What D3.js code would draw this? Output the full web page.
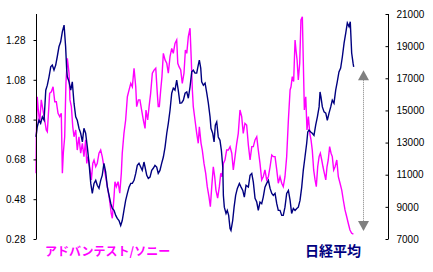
<!DOCTYPE html>
<html>
<head>
<meta charset="utf-8">
<script src="https://cdn.jsdelivr.net/npm/d3@7"></script>
<style>
  html, body { margin: 0; padding: 0; background: #ffffff; }
  svg { display: block; }
  .tick text { font-family: "Liberation Sans", Arial, sans-serif; }
</style>
</head>
<body>
<div id="chart"></div>
<script>
// ---- Data (months since Jan 1999) ----
const nikkeiMonths = [0,0.8,1.9,3.0,4.1,5.2,6.3,7.3,8.4,9.5,
10.5,11.6,12.7,13.7,14.8,15.9,17.0,18.1,19.1,19.8,
20.2,21.3,22.4,23.4,24.5,25.6,26.6,27.7,28.8,29.9,
30.9,32.0,33.1,34.2,35.3,36.3,37.4,38.5,39.5,40.6,
41.7,42.7,43.8,44.9,46.0,47.1,48.2,49.2,50.3,51.4,
52.4,53.5,54.6,55.6,56.7,57.8,58.9,60.0,61.1,62.1,
63.2,64.3,65.3,66.4,67.5,68.5,69.6,70.3,71.4,72.4,
73.5,74.6,75.6,76.7,77.8,78.8,79.9,81.0,82.1,83.2,
84.3,85.3,86.4,87.5,88.5,89.6,90.7,91.7,92.8,93.9,
95.0,96.1,97.2,98.2,99.3,100.4,101.4,102.5,103.6,104.6,
105.3,106.2,106.8,107.9,109.0,110.1,111.1,112.2,112.8,113.9,
114.8,115.6,116.5,117.5,118.6,119.5,120.4,120.8,121.4,122.5,
123.3,124.2,125.1,125.7,126.8,127.7,128.7,129.8,131.1,132.2,
133.3,134.3,135.4,136.9,138.0,139.1,140.1,141.2,142.3,143.3,
144.4,145.5,146.5,147.6,148.7,149.8,150.9,152.0,153.0,154.1,
155.2,156.2,157.3,158.4,159.4,160.5,161.6,162.7,163.8,164.8,
165.9,167.0,168.1,169.1,170.2,171.3,172.3,173.4,174.5,175.2,
176.0,177.1,178.1,179.2,180.3,181.4,182.5,183.1,183.7,184.6,
185.7,186.8,187.8,188.9,190.0,191.0,192.1,193.2,194.2,195.3,
196.4,197.5,198.6,199.7,200.7,201.8,202.6,203.5,204.4,204.8];

const nikkeiValues = [13350,13970,14390,14200,14600,14390,16260,16570,17090,17710,
17820,17510,17820,18340,18960,19270,19900,20310,18960,17510,
17090,16780,16260,16780,15450,14600,14390,13890,13580,13040,
13890,13580,12720,11710,10460,9840,10460,10650,10340,10150,
10650,10960,11710,11170,10230,9710,9210,8900,8780,8470,
8280,8150,7840,8150,8780,9400,9840,10230,10460,10460,
10650,11080,11580,11710,11480,11270,11790,11480,10960,10770,
10850,11270,11400,11580,11480,11080,11270,11710,12100,12720,
13580,14200,15010,16070,16390,16260,16880,16260,15450,15470,
15640,16070,16150,15760,16470,17400,17510,17320,17320,17820,
18130,17630,16780,16570,16700,16070,15450,14600,13890,13580,
13040,14080,14280,13350,13140,12520,11480,9710,8980,8590,
8780,8470,7650,7530,8150,8980,9710,10150,10460,10230,
10020,9610,10340,10230,10960,11080,10540,9530,9300,8780,
9300,9200,9610,10230,10460,10650,10150,9840,9710,9840,
9200,8780,8780,8470,8470,8980,9840,10020,9400,8590,
8900,8780,8900,8980,9400,10230,11270,12100,12960,13660,
13770,13660,13580,13450,14080,14600,15220,16150,15840,15220,
14910,14830,14390,14830,15220,15640,15450,16260,16780,17400,
17630,18340,19190,19820,20440,20210,20520,18570,17940,17710];

const ratioMonths = [0,0.2,0.8,1.5,2.4,3.4,4.5,5.6,6.6,7.3,
7.9,8.8,9.9,11.0,12.1,13.1,14.2,15.3,16.3,17.0,
17.6,18.5,19.3,20.2,21.3,21.9,22.8,23.7,24.5,25.6,
26.6,27.7,28.8,29.9,30.9,32.0,32.7,33.5,34.6,35.7,
36.6,37.4,38.5,39.5,40.6,41.7,42.7,43.8,44.9,46.0,
47.1,47.7,48.5,49.2,50.3,50.9,51.8,52.9,54.0,55.0,
55.6,56.7,57.8,58.9,60.0,61.1,62.1,63.2,64.3,64.9,
66.0,67.0,68.1,69.2,70.3,70.9,72.0,72.9,73.9,75.0,
76.1,77.2,78.2,78.8,79.5,80.4,81.2,82.1,83.2,84.3,
85.3,86.4,87.5,88.5,89.6,90.7,91.4,92.2,93.3,94.3,
95.4,96.3,97.2,98.2,99.3,100.1,100.8,101.4,102.5,103.6,
104.6,105.3,106.4,107.2,108.3,109.4,110.4,111.5,112.4,113.3,
114.3,115.2,116.0,117.1,118.2,119.1,119.9,120.8,121.8,122.9,
124.0,125.1,126.2,127.2,128.3,129.4,130.4,131.5,132.6,133.6,
134.7,135.8,136.9,138.0,139.1,140.1,141.2,142.3,143.3,144.4,
145.5,146.5,147.6,148.7,149.8,150.9,152.0,153.0,154.1,155.2,
156.2,157.3,158.4,159.4,160.5,161.6,162.7,163.8,164.4,165.2,
166.1,167.0,167.6,168.3,169.1,170.0,170.8,171.7,172.3,173.0,
173.9,174.7,175.6,176.5,177.3,178.1,179.0,179.9,180.7,181.6,
182.5,183.3,184.2,185.0,185.9,186.8,187.6,188.4,189.3,190.2,
191.0,191.9,192.8,193.9,194.9,196.0,197.1,198.1,199.2,200.3,
201.3,202.4,203.5,204.6];

const ratioValues = [0.610,0.794,0.995,0.928,0.863,0.979,0.928,0.878,0.828,0.819,
0.895,1.012,1.020,1.045,0.970,0.970,0.912,0.895,0.912,0.610,
0.711,0.794,1.062,1.188,1.113,0.979,0.945,0.844,0.794,0.828,
0.727,0.794,0.711,0.761,0.694,0.778,0.660,0.694,0.643,0.577,
0.660,0.677,0.643,0.660,0.711,0.727,0.694,0.643,0.593,0.543,
0.493,0.459,0.409,0.384,0.493,0.568,0.543,0.568,0.510,0.610,
0.711,0.811,0.878,0.995,1.029,1.062,1.045,1.138,1.045,0.945,
0.979,0.979,0.928,0.878,0.836,0.928,0.878,0.945,1.012,1.113,
1.129,1.138,1.012,0.945,0.945,1.029,1.096,1.213,1.180,1.163,
1.113,1.196,1.238,1.213,1.263,1.280,1.163,1.146,1.129,1.062,
1.113,1.230,1.213,1.297,1.339,1.180,1.029,0.945,0.878,0.811,
0.761,0.844,0.761,0.727,0.660,0.610,0.543,0.493,0.442,0.543,
0.643,0.593,0.526,0.485,0.543,0.610,0.593,0.660,0.677,0.727,
0.727,0.744,0.711,0.627,0.694,0.761,0.811,0.928,0.895,0.811,
0.861,0.853,0.752,0.677,0.744,0.744,0.778,0.794,0.727,0.660,
0.577,0.593,0.627,0.577,0.593,0.643,0.702,0.694,0.694,0.627,
0.560,0.593,0.560,0.543,0.593,0.694,0.878,1.029,1.045,1.096,
1.071,1.280,1.230,1.180,1.079,1.163,1.381,1.397,1.180,0.928,
0.995,0.828,0.895,0.811,0.778,0.727,0.627,0.577,0.543,0.643,
0.694,0.711,0.677,0.643,0.610,0.577,0.643,0.677,0.744,0.711,
0.694,0.627,0.643,0.677,0.593,0.560,0.526,0.476,0.426,0.392,
0.359,0.325,0.309,0.305];

const leftTicks = [0.28, 0.48, 0.68, 0.88, 1.08, 1.28];
const rightTicks = [7000, 9000, 11000, 13000, 15000, 17000, 19000, 21000];
const ratioLabel = "アドバンテスト/ソニー";
const nikkeiLabel = "日経平均";
const arrowMonth = 210.5;
const arrowRange = [7500, 17500];   // in Nikkei units (arrow tips)

// ---- Layout ----
const W = 433, H = 272;
const plotLeft = 36, plotRight = 388, plotTop = 14, plotBottom = 239;

const svg = d3.select("#chart").append("svg").attr("width", W).attr("height", H);

const x = d3.scaleLinear().domain([0, 205]).range([plotLeft, 354]);
const yL = d3.scaleLinear().domain([0.28, 0.28 + 225 / 199]).range([plotBottom, plotTop]);
const yR = d3.scaleLinear().domain([7000, 21000]).range([plotBottom, plotTop]);

// Lines
const ratioData = ratioMonths.map((m, i) => [m, ratioValues[i]]);
const nikkeiData = nikkeiMonths.map((m, i) => [m, nikkeiValues[i]]);

svg.append("path")
  .datum(ratioData)
  .attr("fill", "none")
  .attr("stroke", "#ff00ff")
  .attr("stroke-width", 1.4)
  .attr("d", d3.line().x(d => x(d[0])).y(d => yL(d[1])));

svg.append("path")
  .datum(nikkeiData)
  .attr("fill", "none")
  .attr("stroke", "#000080")
  .attr("stroke-width", 1.4)
  .attr("d", d3.line().x(d => x(d[0])).y(d => yR(d[1])));

// Axes
const axL = d3.axisLeft(yL).tickValues(leftTicks).tickFormat(d3.format(".2f")).tickSize(3).tickPadding(8);
const gL = svg.append("g").attr("transform", `translate(${plotLeft + 0.5},0)`).call(axL);
gL.select(".domain").attr("d", `M0,${plotTop}V${plotBottom}`).attr("stroke", "#000");
gL.selectAll("text").attr("font-size", 10).attr("fill", "#000");

const axR = d3.axisRight(yR).tickValues(rightTicks).tickFormat(d3.format("d")).tickSize(-3).tickPadding(8);
const gR = svg.append("g").attr("transform", `translate(${plotRight + 0.5},0)`).call(axR);
gR.select(".domain").attr("d", `M0,${plotTop}V${plotBottom}`).attr("stroke", "#000");
gR.selectAll("text").attr("font-size", 10).attr("fill", "#000").attr("x", 8);

// Arrow (dotted gray, triangles at both ends)
const ax = Math.round(x(arrowMonth)) + 0.5;
const yTip = yR(arrowRange[1]), yBot = yR(arrowRange[0]);
svg.append("line")
  .attr("x1", ax).attr("x2", ax)
  .attr("y1", yTip + 10).attr("y2", yBot - 10)
  .attr("stroke", "#808080").attr("stroke-width", 1)
  .attr("stroke-dasharray", "1,1");
svg.append("path")
  .attr("d", `M${ax},${yTip}L${ax + 5.5},${yTip + 10}L${ax - 5.5},${yTip + 10}Z`)
  .attr("fill", "#808080");
svg.append("path")
  .attr("d", `M${ax},${yBot}L${ax + 5.5},${yBot - 10}L${ax - 5.5},${yBot - 10}Z`)
  .attr("fill", "#808080");

// Series labels
svg.append("text")
  .attr("x", 45).attr("y", 256)
  .attr("font-family", "'Noto Sans CJK JP', sans-serif")
  .attr("font-size", 12).attr("font-weight", "bold")
  .attr("fill", "#ff00ff")
  .text(ratioLabel);

svg.append("text")
  .attr("x", 305).attr("y", 256)
  .attr("font-family", "'Noto Sans CJK JP', sans-serif")
  .attr("font-size", 14).attr("font-weight", "bold")
  .attr("fill", "#000080")
  .text(nikkeiLabel);
</script>
</body>
</html>
